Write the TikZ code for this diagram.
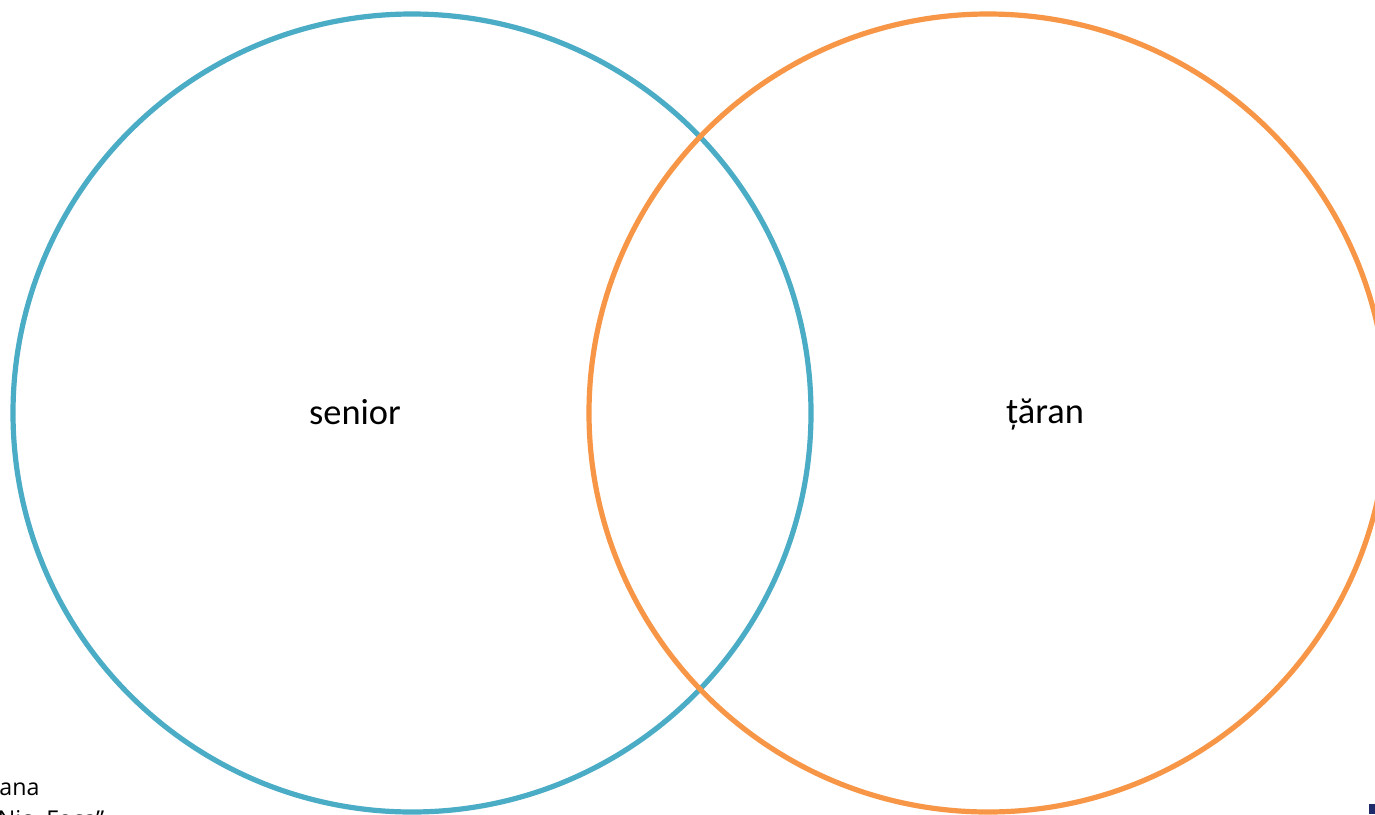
\documentclass[tikz,border=0pt]{standalone}
\usepackage{fontspec}
\setmainfont{Carlito}
\newfontfamily\plexlike{Open Sans}
\definecolor{vennblue}{HTML}{4BACC6}
\definecolor{vennorange}{HTML}{F79646}
\definecolor{darknavy}{HTML}{1F2A6B}
\begin{document}
\begin{tikzpicture}[x=0.5pt,y=-0.5pt,
  ring/.style={line width=2.6pt},
  lbl/.style={font=\fontsize{18.2pt}{22pt}\selectfont, text=black, inner sep=0pt},
  foot/.style={font=\plexlike\fontsize{11.6pt}{13pt}\selectfont, text=black, inner sep=0pt}]
\useasboundingbox (0,0) rectangle (1375,814);
\clip (0,0) rectangle (1375,814);
\fill[white] (0,0) rectangle (1375,814);
\draw[ring, vennblue] (412,413) circle[radius=399];
\draw[ring, vennorange] (988,413) circle[radius=399];
\node[lbl] (senior) at (355,412) {senior};
\node[lbl] (taran) at (1045,415) {țăran};
\node[foot, anchor=base west] (l1) at (-1,795) {ana};
\node[foot, anchor=base west] (l2) at (-12,827) {„Nic. Foca”};
\fill[darknavy] (1369,804) rectangle (1375,814);
\end{tikzpicture}
\end{document}
